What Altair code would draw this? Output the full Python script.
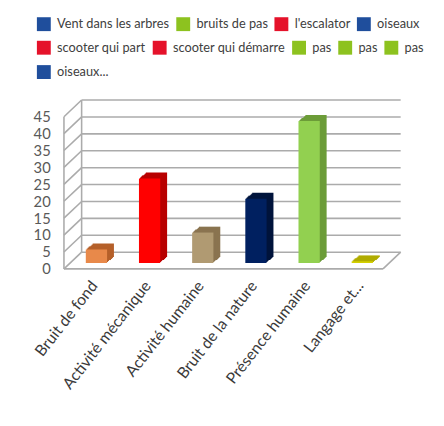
import altair as alt
import pandas as pd

categories = ["Bruit de fond", "Activité mécanique", "Activité humaine",
              "Bruit de la nature", "Présence humaine", "Langage et..."]
values = [4, 25, 9, 19, 42, 0.5]
face_colors = ["#E8894A", "#FF0000", "#B09A72", "#002060", "#92D050", "#D4D000"]
side_colors = ["#B5602A", "#B80000", "#8A7450", "#00143C", "#6C9C38", "#B0AC00"]
y_ticks = [0, 5, 10, 15, 20, 25, 30, 35, 40, 45]

legend_row1 = ["Vent dans les arbres", "bruits de pas", "l'escalator", "oiseaux"]
legend_row1_colors = ["#1F4E9C", "#8DC21F", "#E5122A", "#1F4E9C"]
legend_row2 = ["scooter qui part", "scooter qui démarre", "pas", "pas ", "pas  "]
legend_row2_colors = ["#E5122A", "#E5122A", "#8DC21F", "#8DC21F", "#8DC21F"]
legend_row3 = ["oiseaux..."]
legend_row3_colors = ["#1F4E9C"]

FONT = "Lato, Roboto, sans-serif"
GRID = "#ABABAB"
DX, DY = 18, -17

bars = pd.DataFrame({"cat": categories, "value": values,
                     "face": face_colors, "side": side_colors})
ticks = pd.DataFrame({"v": y_ticks})

yscale = alt.Scale(domain=[0, 45], nice=False, zero=True)
yaxis = alt.Axis(values=y_ticks, domain=False, ticks=False, grid=False,
                 labelPadding=14, labelFontSize=15, labelColor="#595959",
                 labelFont=FONT, title=None)
xsc = alt.Scale(paddingInner=0.6, paddingOuter=0.3)
xaxis = alt.Axis(labelAngle=-52, domain=False, ticks=False, labelPadding=14,
                 labelOffset=4, labelFontSize=16, labelColor="#3A3A3A",
                 labelFont=FONT, title=None)

base_t = alt.Chart(ticks)

back_grid = base_t.mark_rule(color=GRID, strokeWidth=1.6, xOffset=DX, x2Offset=DX,
                             yOffset=DY).encode(
    x=alt.value(0), x2=alt.value("width"),
    y=alt.Y("v:Q", scale=yscale, axis=yaxis))

left_diag = base_t.mark_rule(color=GRID, strokeWidth=1.6, x2Offset=DX,
                             y2Offset=DY).encode(
    x=alt.value(0), x2=alt.value(0),
    y=alt.Y("v:Q", scale=yscale, axis=yaxis), y2=alt.Y2("v"))

floor = alt.Chart(pd.DataFrame({"v": [0]}))
front_floor = floor.mark_rule(color=GRID, strokeWidth=1.6).encode(
    x=alt.value(0), x2=alt.value("width"),
    y=alt.Y("v:Q", scale=yscale, axis=yaxis))
right_floor = floor.mark_rule(color=GRID, strokeWidth=1.6, x2Offset=DX,
                              y2Offset=DY).encode(
    x=alt.value("width"), x2=alt.value("width"),
    y=alt.Y("v:Q", scale=yscale, axis=yaxis), y2=alt.Y2("v"))

walls = alt.Chart(pd.DataFrame({"v": [0], "v2": [45]}))
front_wall = walls.mark_rule(color=GRID, strokeWidth=1.6).encode(
    x=alt.value(0), y=alt.Y("v:Q", scale=yscale, axis=yaxis), y2=alt.Y2("v2"))
back_wall = walls.mark_rule(color=GRID, strokeWidth=1.6, xOffset=DX,
                            yOffset=DY, y2Offset=DY).encode(
    x=alt.value(0), y=alt.Y("v:Q", scale=yscale, axis=yaxis), y2=alt.Y2("v2"))

# extruded depth of each bar (drawn back to front)
depth_layers = []
for i in range(7, 0, -1):
    dx = 6 + i
    dy = -6 - round(i * 6 / 7)
    depth_layers.append(
        alt.Chart(bars).mark_bar(xOffset=dx, yOffset=dy, y2Offset=dy).encode(
            x=alt.X("cat:N", sort=categories, scale=xsc, axis=xaxis),
            y=alt.Y("value:Q", scale=yscale, axis=yaxis),
            color=alt.Color("side:N", scale=None, legend=None)))

front = alt.Chart(bars).mark_bar(xOffset=6, yOffset=-6, y2Offset=-6).encode(
    x=alt.X("cat:N", sort=categories, scale=xsc, axis=xaxis),
    y=alt.Y("value:Q", scale=yscale, axis=yaxis),
    color=alt.Color("face:N", scale=None, legend=None))


def legend_layer(names, colors, lx, ly):
    return alt.Chart(pd.DataFrame({"name": names})).mark_square(opacity=0).encode(
        color=alt.Color("name:N",
                        scale=alt.Scale(domain=names, range=colors),
                        legend=alt.Legend(orient="none", legendX=lx, legendY=ly,
                                          direction="horizontal", title=None,
                                          symbolType="square", symbolSize=200,
                                          symbolStrokeWidth=0, symbolOpacity=1,
                                          labelFontSize=13, labelColor="#404040",
                                          labelFont=FONT, columnPadding=6,
                                          labelOffset=6, padding=0,
                                          labelExpr="trim(datum.label)")))


leg1 = legend_layer(legend_row1, legend_row1_colors, -28, -102)
leg2 = legend_layer(legend_row2, legend_row2_colors, -28, -78)
leg3 = legend_layer(legend_row3, legend_row3_colors, -28, -53)

chart = alt.layer(back_grid, left_diag, front_floor, right_floor, front_wall,
                  back_wall, *depth_layers, front, leg1, leg2, leg3).resolve_scale(
    color="independent").properties(
    width=325, height=155,
    autosize=alt.AutoSizeParams(type="none"),
    padding={"left": 57, "top": 107, "right": 54, "bottom": 140},
).configure_view(stroke=None)

chart.save("out.html", embed_options={"renderer": "svg", "actions": False})
